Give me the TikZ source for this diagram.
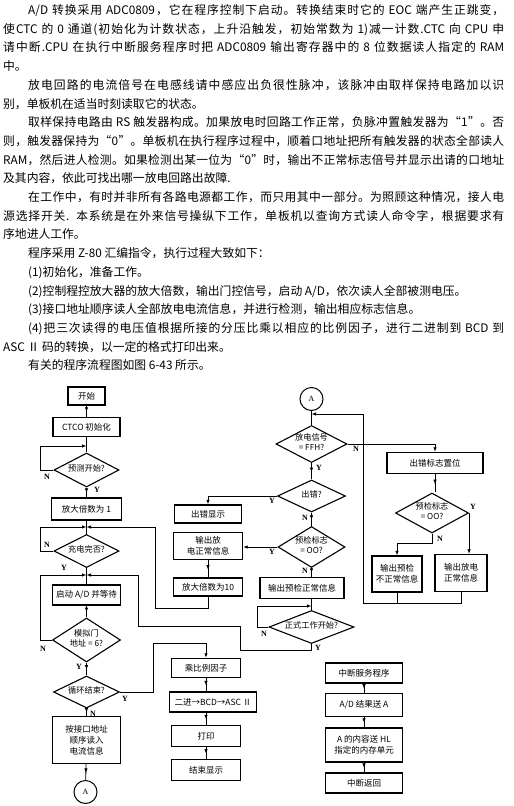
\documentclass[tikz,border=0pt]{standalone}
\usepackage{fontspec}
\setmainfont{Noto Sans CJK SC}
\newfontfamily\ynfont{Liberation Serif}
\usetikzlibrary{shapes.geometric,arrows.meta,decorations.markings}
% stretchable glue between CJK characters (for justified lines)
\newXeTeXintercharclass\cjkcls
\newcount\cjkc
\cjkc="4E00
\loop \XeTeXcharclass\cjkc=\cjkcls \advance\cjkc by 1 \ifnum\cjkc<"A000 \repeat
\cjkc="3000
\loop \XeTeXcharclass\cjkc=\cjkcls \advance\cjkc by 1 \ifnum\cjkc<"3040 \repeat
\cjkc="FF00
\loop \XeTeXcharclass\cjkc=\cjkcls \advance\cjkc by 1 \ifnum\cjkc<"FF61 \repeat
\XeTeXcharclass"201C=\cjkcls
\XeTeXcharclass"201D=\cjkcls
\XeTeXinterchartoks\cjkcls\cjkcls={\hskip 0pt plus 1pt\relax}
\XeTeXinterchartoks 0 \cjkcls={\hskip 0pt plus 1pt\relax}
\XeTeXinterchartoks\cjkcls 0 ={\hskip 0pt plus 1pt\relax}
\XeTeXinterchartokenstate=1
\newcommand\lineN[1]{\makebox[501pt][s]{#1}}
\newcommand\lineI[1]{\makebox[476pt][s]{#1}}
\newcommand\dtx[1]{\makebox[0pt]{\smash{\raisebox{-1.5pt}{\begin{tabular}{@{}c@{}}#1\end{tabular}}}}}
\tikzset{
  para/.style={inner sep=0pt, anchor=base west, font=\fontsize{11.8}{14}\selectfont},
  pbox/.style={draw, line width=1.4pt, inner sep=0pt, align=center, font=\fontsize{8.5}{11}\selectfont},
  dia/.style={diamond, draw, line width=1.1pt, inner sep=0pt, font=\fontsize{8.2}{10.5}\selectfont},
  conn/.style={line width=0.8pt},
  arr/.style={conn, -{Latex[length=4.5pt,width=3.5pt]}},
  mida/.style={conn, postaction={decorate}, decoration={markings, mark=at position 0.55 with {\arrow{Latex[length=4.5pt,width=3.5pt]}}}},
  yn/.style={font=\ynfont\bfseries\fontsize{8}{8}\selectfont, inner sep=0pt},
  circ/.style={circle, draw, line width=1pt, minimum size=23pt, inner sep=0pt, font=\ynfont\fontsize{8}{8}\selectfont},
}
\begin{document}
\begin{tikzpicture}[x=1pt,y=-1pt]
\fill[white] (0,0) rectangle (514,806);
\useasboundingbox (0,0) rectangle (514,806);

% ---------------- paragraph text ----------------
\node[para] (t1) at (28,14.5) {\lineI{A/D 转换采用 ADC0809，它在程序控制下启动。转换结束时它的 EOC 端产生正跳变，}};
\node[para] (t2) at (3,33.2) {\lineN{使CTC 的 0 通道(初始化为计数状态，上升沿触发，初始常数为 1)减一计数.CTC 向 CPU 申}};
\node[para] (t3) at (3,51.9) {\lineN{请中断.CPU 在执行中断服务程序时把 ADC0809 输出寄存器中的 8 位数据读人指定的 RAM}};
\node[para] (t4) at (3,70.6) {中。};
\node[para] (t5) at (28,89.3) {\lineI{放电回路的电流倍号在电感线请中感应出负很性脉冲，该脉冲由取样保持电路加以识}};
\node[para] (t6) at (3,108) {别，单板机在适当时刻读取它的状态。};
\node[para] (t7) at (28,126.7) {\lineI{取样保持电路由 RS 触发器构成。加果放电时回路工作正常，负脉冲置触发器为“1”。否}};
\node[para] (t8) at (3,145.4) {\lineN{则，触发器保持为“0”。单板机在执行程序过程中，顺着口地址把所有触发器的状态全部读人}};
\node[para] (t9) at (3,164.1) {\lineN{RAM，然后进人检测。如果检测出某一位为“0”时，输出不正常标志倍号并显示出请的口地址}};
\node[para] (t10) at (3,182.8) {及其内容，依此可找出哪一放电回路出故障.};
\node[para] (t11) at (28,201.5) {\lineI{在工作中，有时并非所有各路电源都工作，而只用其中一部分。为照顾这种情况，接人电}};
\node[para] (t12) at (3,220.2) {\lineN{源选择开关. 本系统是在外来信号操纵下工作，单板机以查询方式读人命令字，根据要求有}};
\node[para] (t13) at (3,238.9) {序地进人工作。};
\node[para] (t14) at (28,257.6) {程序采用 Z-80 汇编指令，执行过程大致如下：};
\node[para] (t15) at (28,276.3) {(1)初始化，准备工作。};
\node[para] (t16) at (28,295) {(2)控制程控放大器的放大倍数，输出门控信号，启动 A/D，依次读人全部被测电压。};
\node[para] (t17) at (28,313.7) {(3)接口地址顺序读人全部放电电流信息，并进行检测，输出相应标志信息。};
\node[para] (t18) at (28,332.4) {\lineI{(4)把三次读得的电压值根据所接的分压比乘以相应的比例因子，进行二进制到 BCD 到}};
\node[para] (t19) at (3,351.1) {ASC Ⅱ 码的转换，以一定的格式打印出来。};
\node[para] (t20) at (28,369.8) {有关的程序流程图如图 6-43 所示。};

% ---------------- left column ----------------
\node[pbox, minimum width=37pt, minimum height=18pt] (start) at (86.5,396) {开始};
\node[pbox, minimum width=67pt, minimum height=19pt] (ctc) at (86.5,427) {CTCO 初始化};
\node[dia, minimum width=65pt, minimum height=34pt] (d1) at (86.5,470) {\dtx{预测开始?}};
\node[pbox, minimum width=70pt, minimum height=22pt] (amp1) at (86.5,509) {放大倍数为 1};
\node[dia, minimum width=65pt, minimum height=33pt] (d2) at (86.5,551) {\dtx{充电完否?}};
\node[pbox, minimum width=68pt, minimum height=20pt] (startad) at (86.5,595) {启动 A/D 并等待};
\node[dia, minimum width=68pt, minimum height=44pt] (d3) at (86.5,640) {\dtx{模拟门\\地址 = 6?}};
\node[dia, minimum width=66pt, minimum height=32pt] (d4) at (86.5,692) {\dtx{循环结束?}};
\node[pbox, minimum width=68pt, minimum height=47pt] (addr) at (86.5,740) {按接口地址\\顺序读入\\电流信息};
\node[circ] (cA2) at (85.5,792) {A};

% ---------------- middle column ----------------
\node[circ] (cA1) at (311.5,399) {A};
\node[dia, minimum width=71pt, minimum height=37pt] (f1) at (311.5,444) {\dtx{放电信号\\= FFH?}};
\node[dia, minimum width=68pt, minimum height=32pt] (f2) at (311.5,496) {\dtx{出错?}};
\node[dia, minimum width=67pt, minimum height=41pt] (f3) at (311.5,547) {\dtx{预检标志\\= OO?}};
\node[pbox, minimum width=84pt, minimum height=21pt] (preok) at (302,588) {输出预检正常信息};
\node[dia, minimum width=85pt, minimum height=33pt] (d5) at (311.5,627) {\dtx{正式工作开始?}};
\node[pbox, minimum width=67pt, minimum height=18pt] (errshow) at (208,514) {出错显示};
\node[pbox, minimum width=69pt, minimum height=27pt] (okout) at (208,546) {输出放\\电正常信息};
\node[pbox, minimum width=69pt, minimum height=18pt] (amp10) at (208,587) {放大倍数为10};

% ---------------- right column ----------------
\node[pbox, minimum width=96pt, minimum height=21pt] (err) at (435,463) {出错标志置位};
\node[dia, minimum width=73pt, minimum height=40pt] (f4) at (432,513) {\dtx{预检标志\\= OO?}};
\node[pbox, minimum width=50pt, minimum height=36pt] (bx1) at (397,574) {输出预检\\不正常信息};
\node[pbox, minimum width=52pt, minimum height=37pt] (bx2) at (461,573) {输出放电\\正常信息};

% ---------------- output column ----------------
\node[pbox, minimum width=69pt, minimum height=19pt] (mul) at (206,668) {乘比例因子};
\node[pbox, minimum width=87pt, minimum height=20pt] (bcd) at (213,702) {二进→BCD→ASC Ⅱ};
\node[pbox, minimum width=69pt, minimum height=21pt] (prn) at (206,736) {打印};
\node[pbox, minimum width=69pt, minimum height=21pt] (endshow) at (206,770) {结束显示};

% ---------------- interrupt column ----------------
\node[pbox, minimum width=77pt, minimum height=20pt] (isr) at (364,673) {中断服务程序};
\node[pbox, minimum width=77pt, minimum height=23pt] (adres) at (364,705) {A/D 结果送 A};
\node[pbox, minimum width=77pt, minimum height=34pt] (amem) at (364,745) {A 的内容送 HL\\指定的内存单元};
\node[pbox, minimum width=77pt, minimum height=20pt] (iret) at (364,783) {中断返回};

% ---------------- junctions ----------------
\coordinate (j1) at (86.5,446);
\coordinate (j2) at (86.5,527);
\coordinate (j3) at (86.5,575);
\coordinate (j5) at (311.5,606);
\coordinate (jA) at (311.5,414);
\coordinate (r1) at (240,626);
\coordinate (r2) at (138,575);
\coordinate (c153) at (153,643);
\coordinate (rb) at (363,603);
\coordinate (rt) at (363,414);
\coordinate (lb) at (155,608);

% ---------------- connectors: left ----------------
\draw[mida] (start) -- (ctc);
\draw[conn] (ctc) -- (d1);
\draw[arr] (d1.west) -- ++(-13,0) |- (j1);
\draw[mida] (d1) -- (amp1);
\draw[conn] (amp1) -- (d2);
\draw[arr] (d2.west) -- ++(-13,0) |- (j2);
\draw[arr] (amp10.south) |- (lb) |- (j2);
\draw[conn] (d2) -- (startad);
\draw[arr] (d3.west) -- ++(-11.5,0) |- (j3);
\draw[arr] (d5.south) -- ++(0,6) -| (r1) -| (r2) -- (j3);
\draw[mida] (startad) -- (d3);
\draw[mida] (d3) -- (d4);
\draw[mida] (d4) -- (addr);
\draw[mida] (addr) -- (cA2);
\draw[arr] (d4.east) -| (c153) -| (mul.north);

% ---------------- connectors: middle ----------------
\draw[conn] (cA1) -- (f1);
\draw[arr] (bx2.south) |- (rb) -- (rt) -- (jA);
\draw[conn] (bx1.south) -- (bx1.south |- rb);
\draw[arr] (f1.east) -| (err.north);
\draw[mida] (f1) -- (f2);
\draw[arr] (f2.west) -| (errshow.north);
\draw[mida] (f2) -- (f3);
\draw[arr] (f3.west) -- (f3.west -| okout.east);
\draw[mida] (okout.south -| amp10.north) -- (amp10.north);
\draw[mida] (f3.south) -- (f3.south |- preok.north);
\draw[conn] (f3.south |- preok.south) -- (d5.north);
\draw[arr] (d5.west) -- ++(-11,0) |- (j5);

% ---------------- connectors: right ----------------
\draw[mida] (err) -- (err |- f4.north);
\draw[arr] (f4.east) -- (f4.east |- bx2.north);
\draw[arr] (f4.south) -- ++(0,10) -| (bx1.north);

% ---------------- connectors: output / interrupt ----------------
\draw[mida] (mul.south) -- (mul.south |- bcd.north);
\draw[mida] (mul.south |- bcd.south) -- (prn.north);
\draw[mida] (prn) -- (endshow);
\draw[mida] (isr) -- (adres);
\draw[mida] (adres) -- (amem);
\draw[mida] (amem) -- (iret);

% ---------------- Y / N labels ----------------
\node[yn] (n1) at (47,477) {N};
\node[yn] (y1) at (97,490) {Y};
\node[yn] (n2) at (47,545) {N};
\node[yn] (y2) at (64,568) {Y};
\node[yn] (n3) at (43,649) {N};
\node[yn] (y3) at (79,667) {Y};
\node[yn] (y4) at (125,699) {Y};
\node[yn] (n4) at (93,714) {N};
\node[yn] (n5) at (356,449) {N};
\node[yn] (y5) at (319,468) {Y};
\node[yn] (y6) at (272,501) {Y};
\node[yn] (n6) at (305,518) {N};
\node[yn] (y7) at (272,552) {Y};
\node[yn] (n7) at (305,571) {N};
\node[yn] (n8) at (264,634) {N};
\node[yn] (y8) at (318,648) {Y};
\node[yn] (y9) at (473,507) {Y};
\node[yn] (n9) at (440,539) {N};
\end{tikzpicture}
\end{document}
